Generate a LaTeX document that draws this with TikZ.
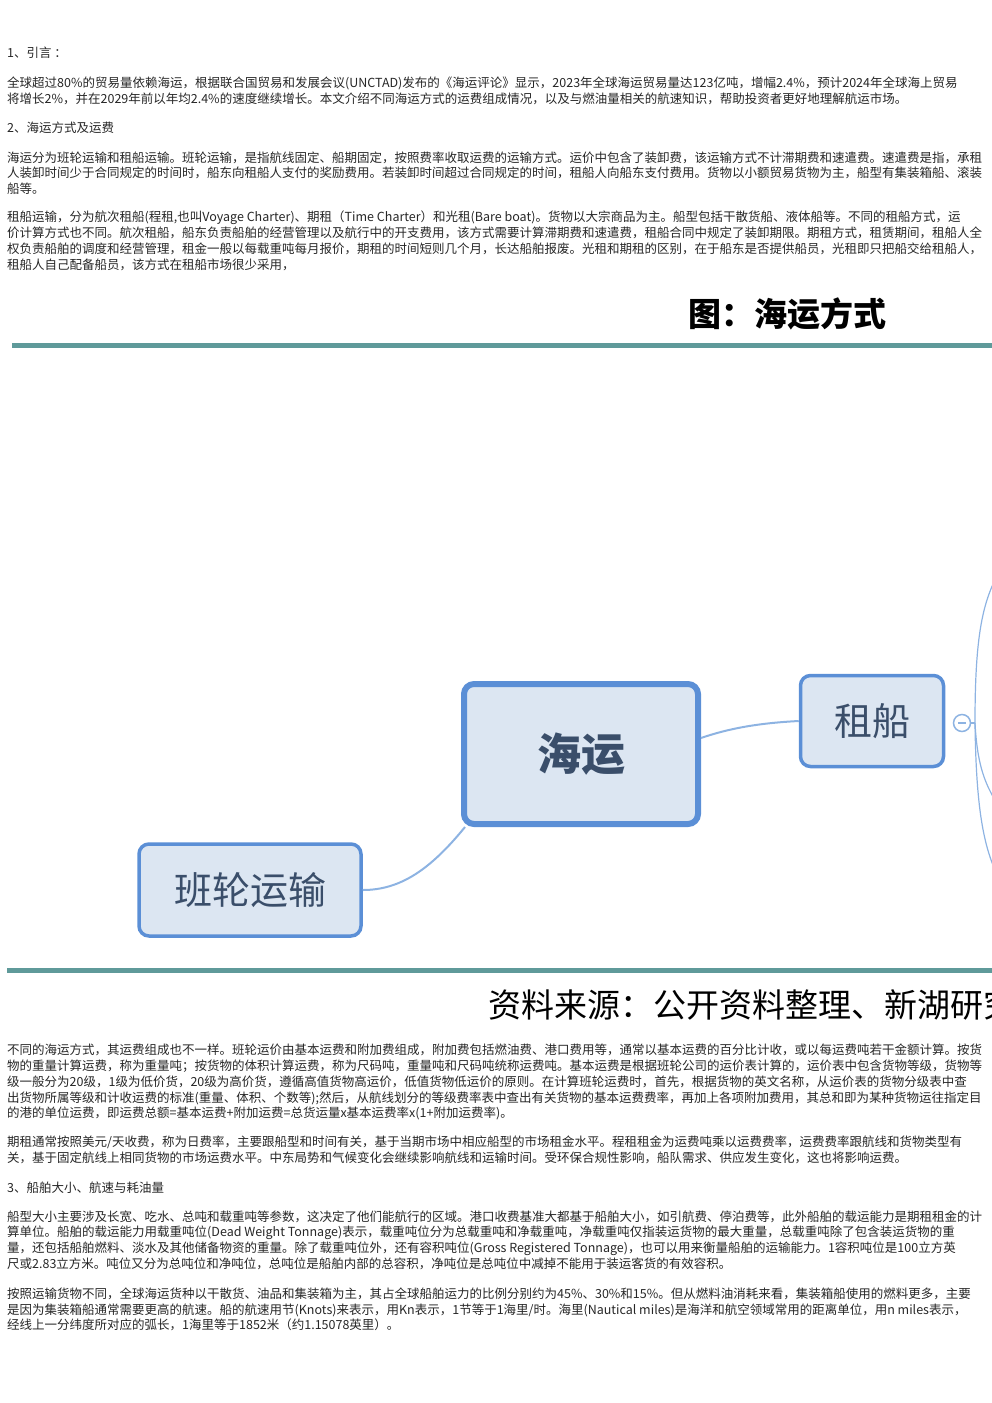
\documentclass[tikz,border=0pt]{standalone}
\usepackage{fontspec}
\usetikzlibrary{calc}
\setmainfont{Noto Sans CJK SC}
\begin{document}
\begin{tikzpicture}[x=1pt,y=-1pt,
  tl/.style={anchor=west,inner sep=0pt,font=\fontsize{12.5}{14}\selectfont,text=black!85},
  bx/.style={draw=boxline,fill=boxfill,rounded corners=10pt,text=boxtext,inner sep=0pt},
  con/.style={draw=conline,line width=2pt}]
\definecolor{boxline}{HTML}{5B8FD6}
\definecolor{boxfill}{HTML}{DCE6F2}
\definecolor{boxtext}{HTML}{3A4E6A}
\definecolor{conline}{HTML}{8DB3E2}
\definecolor{teal}{HTML}{5F9A9A}
\useasboundingbox (0,0) rectangle (992,1403);
\begin{scope}
\clip (0,0) rectangle (992,1403);
\node[tl] (l1) at (7,53) {1、引言 ：};
\node[tl] (p1a) at (7,83) {全球超过80\%的贸易量依赖海运，根据联合国贸易和发展会议(UNCTAD)发布的《海运评论》显示，2023年全球海运贸易量达123亿吨，增幅2.4\%，预计2024年全球海上贸易};
\node[tl] (p1b) at (7,99) {将增长2\%，并在2029年前以年均2.4\%的速度继续增长。本文介绍不同海运方式的运费组成情况，以及与燃油量相关的航速知识，帮助投资者更好地理解航运市场。};
\node[tl] (l2) at (7,128) {2、海运方式及运费};
\node[tl] (p2a) at (7,158) {海运分为班轮运输和租船运输。班轮运输，是指航线固定、船期固定，按照费率收取运费的运输方式。运价中包含了装卸费，该运输方式不计滞期费和速遣费。速遣费是指，承租};
\node[tl] (p2b) at (7,173) {人装卸时间少于合同规定的时间时，船东向租船人支付的奖励费用。若装卸时间超过合同规定的时间，租船人向船东支付费用。货物以小额贸易货物为主，船型有集装箱船、滚装};
\node[tl] (p2c) at (7,189) {船等。};
\node[tl] (p3a) at (7,218) {租船运输，分为航次租船(程租,也叫Voyage Charter)、期租（Time Charter）和光租(Bare boat)。货物以大宗商品为主。船型包括干散货船、液体船等。不同的租船方式，运};
\node[tl] (p3b) at (7,233) {价计算方式也不同。航次租船，船东负责船舶的经营管理以及航行中的开支费用，该方式需要计算滞期费和速遣费，租船合同中规定了装卸期限。期租方式，租赁期间，租船人全};
\node[tl] (p3c) at (7,249) {权负责船舶的调度和经营管理，租金一般以每载重吨每月报价，期租的时间短则几个月，长达船舶报废。光租和期租的区别，在于船东是否提供船员，光租即只把船交给租船人，};
\node[tl] (p3d) at (7,265) {租船人自己配备船员，该方式在租船市场很少采用，};

\node[anchor=center,inner sep=0pt,font=\fontsize{33}{34}\selectfont\bfseries] (title) at (787,314) {图：海运方式};
\draw[teal,line width=5pt] (12,345) -- (992,345);

\node[bx,line width=6pt,minimum width=234pt,minimum height=140pt,font=\fontsize{44}{46}\selectfont\bfseries] (hy) at (581,754) {海运};
\node[bx,line width=3.5pt,minimum width=143pt,minimum height=91pt,font=\fontsize{38}{40}\selectfont] (zc) at (872,721) {租船};
\node[bx,line width=3.5pt,minimum width=222pt,minimum height=92pt,font=\fontsize{38}{40}\selectfont] (bl) at (250,890) {班轮运输};
\draw[con] (hy.east |- 0,738) .. controls (730,728) and (760,723) .. (zc.west);
\draw[con] ($(hy.south west)+(4,0)$) .. controls (430,870) and (400,890) .. (bl.east);
\node[circle,draw=conline,line width=1.5pt,fill=white,minimum size=17pt,inner sep=0pt] (cc) at (962,723) {};
\draw[conline,line width=1.5pt] ($(cc.center)+(-4,0)$) -- ($(cc.center)+(4,0)$);
\coordinate (br) at (975,723);
\draw[con,line width=1.2pt] (cc.east) -- (br);
\draw[con,line width=1.2pt] (br) .. controls (975,650) and (980,610) .. (995,580);
\draw[con,line width=1.2pt] (br) .. controls (977,760) and (983,780) .. (995,800);
\draw[con,line width=1.2pt] (br) .. controls (976,800) and (982,840) .. (995,870);

\draw[teal,line width=5pt] (7,970) -- (992,970);
\node[anchor=west,inner sep=0pt,font=\fontsize{33}{34}\selectfont] (src) at (488,1005) {资料来源：公开资料整理、新湖研究所};

\node[tl] (q1a) at (7,1050) {不同的海运方式，其运费组成也不一样。班轮运价由基本运费和附加费组成，附加费包括燃油费、港口费用等，通常以基本运费的百分比计收，或以每运费吨若干金额计算。按货};
\node[tl] (q1b) at (7,1066) {物的重量计算运费，称为重量吨；按货物的体积计算运费，称为尺码吨，重量吨和尺码吨统称运费吨。基本运费是根据班轮公司的运价表计算的，运价表中包含货物等级，货物等};
\node[tl] (q1c) at (7,1082) {级一般分为20级，1级为低价货，20级为高价货，遵循高值货物高运价，低值货物低运价的原则。在计算班轮运费时，首先，根据货物的英文名称，从运价表的货物分级表中查};
\node[tl] (q1d) at (7,1098) {出货物所属等级和计收运费的标准(重量、体积、个数等);然后，从航线划分的等级费率表中查出有关货物的基本运费费率，再加上各项附加费用，其总和即为某种货物运往指定目};
\node[tl] (q1e) at (7,1113) {的港的单位运费，即运费总额=基本运费+附加运费=总货运量x基本运费率x(1+附加运费率)。};
\node[tl] (q2a) at (7,1142) {期租通常按照美元/天收费，称为日费率，主要跟船型和时间有关，基于当期市场中相应船型的市场租金水平。程租租金为运费吨乘以运费费率，运费费率跟航线和货物类型有};
\node[tl] (q2b) at (7,1158) {关，基于固定航线上相同货物的市场运费水平。中东局势和气候变化会继续影响航线和运输时间。受环保合规性影响，船队需求、供应发生变化，这也将影响运费。};
\node[tl] (l3) at (7,1188) {3、船舶大小、航速与耗油量};
\node[tl] (q3a) at (7,1217) {船型大小主要涉及长宽、吃水、总吨和载重吨等参数，这决定了他们能航行的区域。港口收费基准大都基于船舶大小，如引航费、停泊费等，此外船舶的载运能力是期租租金的计};
\node[tl] (q3b) at (7,1233) {算单位。船舶的载运能力用载重吨位(Dead Weight Tonnage)表示，载重吨位分为总载重吨和净载重吨，净载重吨仅指装运货物的最大重量，总载重吨除了包含装运货物的重};
\node[tl] (q3c) at (7,1249) {量，还包括船舶燃料、淡水及其他储备物资的重量。除了载重吨位外，还有容积吨位(Gross Registered Tonnage)，也可以用来衡量船舶的运输能力。1容积吨位是100立方英};
\node[tl] (q3d) at (7,1264) {尺或2.83立方米。吨位又分为总吨位和净吨位，总吨位是船舶内部的总容积，净吨位是总吨位中减掉不能用于装运客货的有效容积。};
\node[tl] (q4a) at (7,1294) {按照运输货物不同，全球海运货种以干散货、油品和集装箱为主，其占全球船舶运力的比例分别约为45\%、30\%和15\%。但从燃料油消耗来看，集装箱船使用的燃料更多，主要};
\node[tl] (q4b) at (7,1310) {是因为集装箱船通常需要更高的航速。船的航速用节(Knots)来表示，用Kn表示，1节等于1海里/时。海里(Nautical miles)是海洋和航空领域常用的距离单位，用n miles表示，};
\node[tl] (q4c) at (7,1325) {经线上一分纬度所对应的弧长，1海里等于1852米（约1.15078英里）。};
\end{scope}
\end{tikzpicture}
\end{document}
